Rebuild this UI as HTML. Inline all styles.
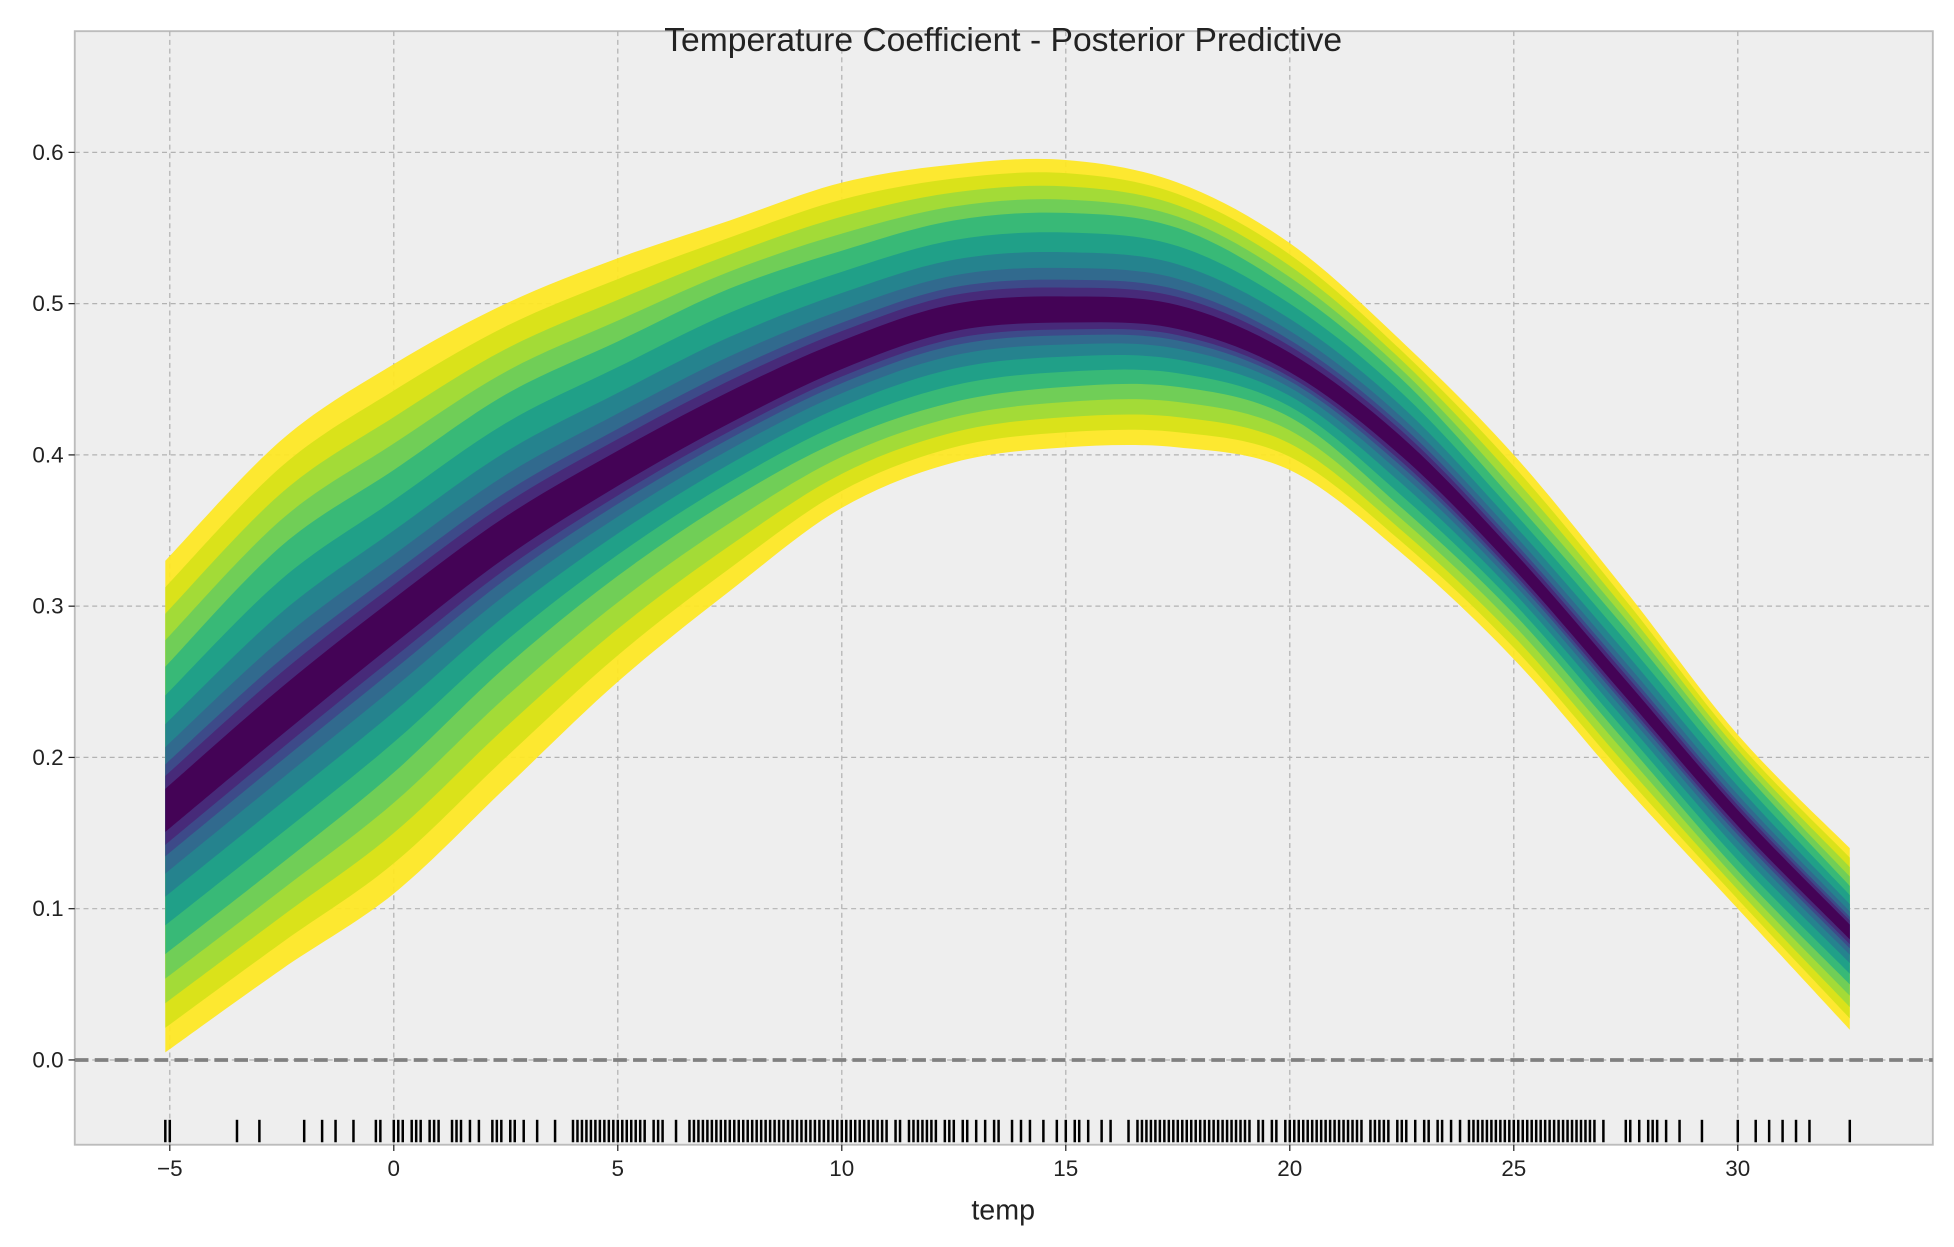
<!DOCTYPE html>
<html><head><meta charset="utf-8"><style>
html,body{margin:0;padding:0;background:#fff;}
svg{display:block;font-family:"Liberation Sans","DejaVu Sans",sans-serif;}
</style></head><body>
<svg id="chart" width="1954" height="1247" viewBox="0 0 1568 1000" preserveAspectRatio="none" xmlns="http://www.w3.org/2000/svg">
<rect x="0" y="0" width="1568" height="1000" fill="#ffffff"/>
<rect x="60" y="25" width="1491" height="893" fill="#eeeeee" stroke="#bcbcbc" stroke-width="1.5"/>
<g id="grid"></g>
<g id="bands"></g>
<g id="zero"></g>
<g id="rug"></g>
<g id="axes"></g>
<text x="805" y="41" font-size="27" text-anchor="middle" fill="#222">Temperature Coefficient - Posterior Predictive</text>
<text x="805" y="978" font-size="23" text-anchor="middle" fill="#222">temp</text>
</svg>
<script>
const xs = [-5.1, -2.5, 0, 2.5, 5, 7.5, 10, 12.5, 15, 17.5, 20, 22.5, 25, 27.5, 30, 32.5];
const median = [0.165, 0.23, 0.29, 0.345, 0.39, 0.43, 0.465, 0.49, 0.495, 0.49, 0.46, 0.405, 0.33, 0.245, 0.16, 0.085];
const outerUpper = [0.33, 0.41, 0.46, 0.50, 0.53, 0.555, 0.58, 0.592, 0.595, 0.58, 0.54, 0.475, 0.40, 0.31, 0.215, 0.14];
const outerLower = [0.005, 0.06, 0.11, 0.18, 0.25, 0.31, 0.365, 0.395, 0.405, 0.405, 0.39, 0.335, 0.265, 0.18, 0.10, 0.02];
const midUpper = [0.26, 0.34, 0.39, 0.44, 0.475, 0.51, 0.535, 0.555, 0.56, 0.55, 0.51, 0.45, 0.37, 0.285, 0.195, 0.115];
const midLower = [0.07, 0.13, 0.19, 0.26, 0.32, 0.37, 0.41, 0.435, 0.445, 0.445, 0.425, 0.365, 0.295, 0.21, 0.125, 0.05];
const xTicks = [-5, 0, 5, 10, 15, 20, 25, 30];
const yTicks = [0.0, 0.1, 0.2, 0.3, 0.4, 0.5, 0.6];
const rugTemps = [-5.1,-5,-3.5,-3,-2,-1.6,-1.3,-0.9,-0.4,-0.3,0,0.1,0.2,0.4,0.5,0.6,0.8,0.9,1,1.3,1.4,1.5,1.7,1.9,2.2,2.3,2.4,2.6,2.7,2.9,3.2,3.6,4,4.1,4.2,4.3,4.4,4.5,4.6,4.7,4.8,4.9,5,5.1,5.2,5.3,5.4,5.5,5.6,5.8,5.9,6,6.3,6.6,6.7,6.8,6.9,7,7.1,7.2,7.3,7.4,7.5,7.6,7.7,7.8,7.9,8,8.1,8.2,8.3,8.4,8.5,8.6,8.7,8.8,8.9,9,9.1,9.2,9.3,9.4,9.5,9.6,9.7,9.8,9.9,10,10.1,10.2,10.3,10.4,10.5,10.6,10.7,10.8,10.9,11,11.2,11.3,11.5,11.6,11.7,11.8,11.9,12,12.1,12.3,12.4,12.5,12.7,12.8,13,13.2,13.4,13.5,13.8,14,14.2,14.5,14.8,15,15.2,15.3,15.5,15.8,16,16.4,16.6,16.7,16.8,16.9,17,17.1,17.2,17.3,17.4,17.5,17.6,17.7,17.8,17.9,18,18.1,18.2,18.3,18.4,18.5,18.6,18.7,18.8,18.9,19,19.1,19.3,19.4,19.6,19.7,19.9,20,20.1,20.2,20.3,20.4,20.5,20.6,20.7,20.8,20.9,21,21.1,21.2,21.3,21.4,21.5,21.6,21.8,21.9,22,22.1,22.2,22.4,22.5,22.6,22.8,23,23.1,23.3,23.4,23.6,23.8,24,24.1,24.2,24.3,24.4,24.5,24.6,24.7,24.8,24.9,25,25.1,25.2,25.3,25.4,25.5,25.6,25.7,25.8,25.9,26,26.1,26.2,26.3,26.4,26.5,26.6,26.7,26.8,27,27.5,27.6,27.8,28,28.1,28.2,28.4,28.7,29.2,30,30.4,30.7,31,31.3,31.6,32.5];
const NS='http://www.w3.org/2000/svg';
const L=60,R=1551,T=25,B=918;
const xScale=v=>316+(v-0)*35.95;
const yScale=v=>850-v*1213;
function mk(tag,attrs,parent){const e=document.createElementNS(NS,tag);for(const k in attrs)e.setAttribute(k,attrs[k]);parent.appendChild(e);return e;}
const grid=document.getElementById('grid'),axes=document.getElementById('axes');
xTicks.forEach(t=>{const x=xScale(t);
 const g=mk('line',{x1:x,x2:x,y1:T,y2:B,stroke:'#b2b2b2','stroke-width':1,'stroke-dasharray':'4,3'},grid);
 
 const tk=mk('line',{x1:x,x2:x,y1:B,y2:B+5,stroke:'#222','stroke-width':1},axes);
 
 const tx=mk('text',{x:x,y:B+25,'font-size':18,'text-anchor':'middle',fill:'#222'},axes);
 tx.textContent=(t<0?'\u2212'+Math.abs(t):t);
 });
yTicks.forEach(t=>{const y=yScale(t);
 const g=mk('line',{x1:L,x2:R,y1:y,y2:y,stroke:'#b2b2b2','stroke-width':1,'stroke-dasharray':'4,3'},grid);
 
 const tk=mk('line',{x1:L-5,x2:L,y1:y,y2:y,stroke:'#222','stroke-width':1},axes);
 
 const tx=mk('text',{x:L-9,y:y+6,'font-size':18,'text-anchor':'end',fill:'#222'},axes);
 tx.textContent=t.toFixed(1);
 });
function pts(arr){return xs.map((x,i)=>[xScale(x),yScale(arr[i])]);}
function curve(p){let d='';for(let i=0;i<p.length;i++){if(i===0){d+='M'+p[0][0]+','+p[0][1];continue;}
 const p0=p[Math.max(i-2,0)],p1=p[i-1],p2=p[i],p3=p[Math.min(i+1,p.length-1)];
 const c1=[p1[0]+(p2[0]-p0[0])/6,p1[1]+(p2[1]-p0[1])/6],c2=[p2[0]-(p3[0]-p1[0])/6,p2[1]-(p3[1]-p1[1])/6];
 d+=' C'+c1+' '+c2+' '+p2;}return d;}
function band(up,lo){const a=pts(up),b=pts(lo).reverse();return curve(a)+' L'+b[0]+curve(b).replace(/^M[^ ]+/,'')+' Z';}
function mix(a,b,f){return a.map((v,i)=>v+(b[i]-v)*f);}
const bands=document.getElementById('bands');
const levels=[
 [0,'#fde725'],[0.25,'#d8e219'],[0.5,'#a0da39'],[0.75,'#6ece58'],
 [1.0,'#35b779'],[1.25,'#1f9e89'],[1.5,'#26828e'],[1.7,'#31688e'],[1.85,'#3e4989'],[1.95,'#482878'],[2.1,'#440154']];
levels.forEach(([f,c])=>{let up,lo;
 if(f<=1){up=mix(outerUpper,midUpper,f);lo=mix(outerLower,midLower,f);}
 else{const g=Math.min((f-1)/1.25,0.85);up=mix(midUpper,median,g);lo=mix(midLower,median,g);}
 const p=mk('path',{d:band(up,lo),fill:c,opacity:0.95},bands);
 });
const zl=mk('line',{x1:L,x2:R,y1:yScale(0),y2:yScale(0),stroke:'#808080','stroke-width':3,'stroke-dasharray':'11,5'},document.getElementById('zero'));

const rug=document.getElementById('rug');
rugTemps.forEach(t=>{const x=xScale(t);
 const r=mk('line',{x1:x,x2:x,y1:898,y2:916,stroke:'#000','stroke-width':2},rug);
 });
</script>
</body></html>
